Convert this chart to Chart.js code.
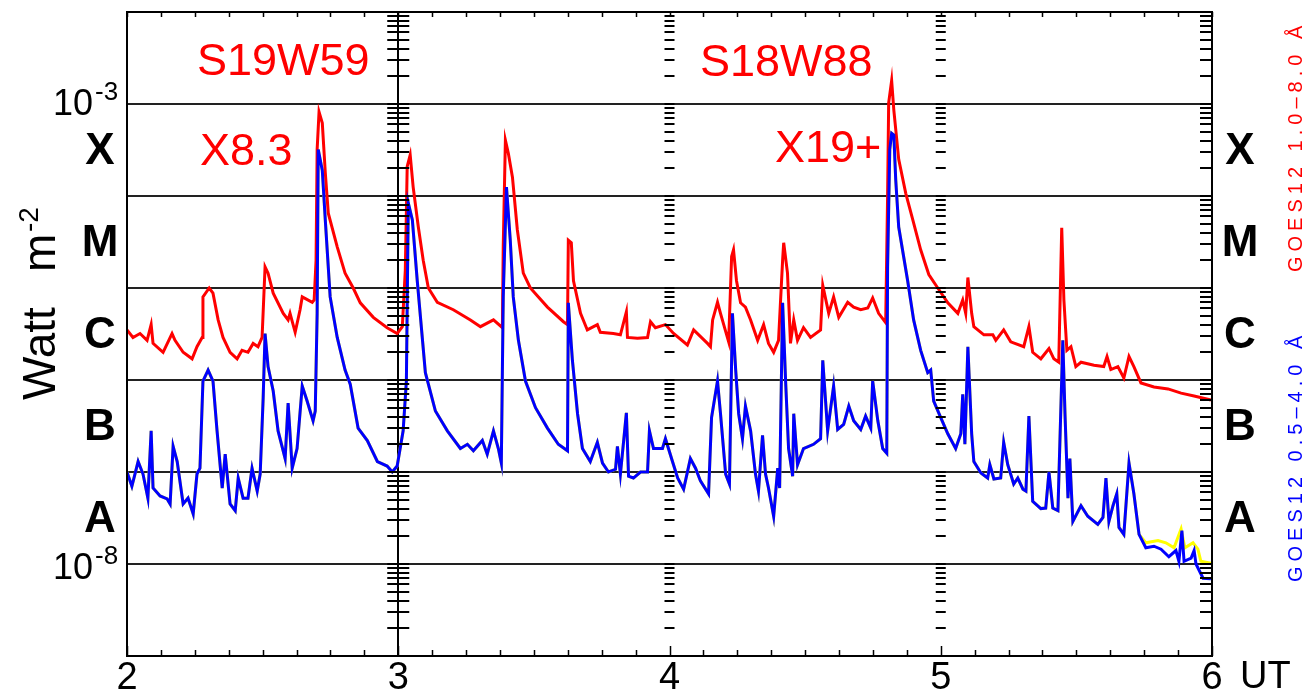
<!DOCTYPE html>
<html>
<head>
<meta charset="utf-8">
<title>GOES X-ray flux</title>
<script src="https://cdn.jsdelivr.net/npm/chart.js@4.4.1/dist/chart.umd.min.js"></script>
<style>
  html, body { margin: 0; padding: 0; background: #fff; }
  #wrap { width: 1302px; height: 700px; }
</style>
</head>
<body>
<div id="wrap"><canvas id="flux" width="1302" height="700"></canvas></div>
<script>
// Axis values
const dayTicks = [2, 3, 4, 5, 6];
const decades = [1e-9, 1e-8, 1e-7, 1e-6, 1e-5, 1e-4, 1e-3, 1e-2];
const classLetters = ['A', 'B', 'C', 'M', 'X'];
const classFloor = [1e-8, 1e-7, 1e-6, 1e-5, 1e-4];

// GOES12 1.0-8.0 A (long channel), time in days of the month
const redTime = [
  2.000, 2.022, 2.048, 2.074, 2.089, 2.096, 2.133, 2.166, 2.177, 2.207,
  2.240, 2.258, 2.277, 2.280, 2.303, 2.317, 2.336, 2.354, 2.380, 2.406,
  2.424, 2.446, 2.465, 2.483, 2.498, 2.509, 2.520, 2.539, 2.576, 2.594,
  2.601, 2.620, 2.638, 2.646, 2.683, 2.690, 2.697, 2.701, 2.708, 2.720,
  2.731, 2.742, 2.775, 2.804, 2.834, 2.860, 2.908, 2.959, 2.996, 3.015,
  3.026, 3.033, 3.044, 3.055, 3.074, 3.092, 3.111, 3.144, 3.203, 3.266,
  3.303, 3.351, 3.384, 3.387, 3.395, 3.406, 3.421, 3.439, 3.461, 3.487,
  3.550, 3.609, 3.624, 3.627, 3.638, 3.646, 3.672, 3.697, 3.734, 3.745,
  3.793, 3.819, 3.841, 3.845, 3.882, 3.919, 3.930, 3.948, 3.985, 4.015,
  4.066, 4.089, 4.140, 4.151, 4.159, 4.177, 4.188, 4.218, 4.229, 4.236,
  4.247, 4.262, 4.280, 4.299, 4.325, 4.347, 4.365, 4.384, 4.402, 4.417,
  4.421, 4.435, 4.446, 4.458, 4.472, 4.494, 4.520, 4.557, 4.565, 4.587,
  4.605, 4.624, 4.657, 4.679, 4.705, 4.731, 4.749, 4.771, 4.797, 4.804,
  4.808, 4.819, 4.827, 4.845, 4.871, 4.897, 4.926, 4.956, 4.989, 5.026,
  5.063, 5.081, 5.092, 5.100, 5.114, 5.122, 5.159, 5.192, 5.203, 5.232,
  5.258, 5.306, 5.325, 5.339, 5.369, 5.399, 5.417, 5.435, 5.446, 5.454,
  5.465, 5.480, 5.498, 5.517, 5.565, 5.601, 5.613, 5.627, 5.653, 5.675,
  5.694, 5.712, 5.738, 5.786, 5.838, 5.886, 5.934, 5.996
];
const redFlux = [
  3.5e-6, 2.9e-6, 3.2e-6, 2.7e-6, 4.0e-6, 2.5e-6, 2.0e-6, 3.2e-6, 2.7e-6, 2.0e-6,
  1.7e-6, 2.3e-6, 2.9e-6, 8.0e-6, 1.0e-5, 8.8e-6, 4.5e-6, 2.9e-6, 2.0e-6, 1.7e-6,
  2.1e-6, 2.0e-6, 2.5e-6, 2.3e-6, 2.9e-6, 1.7e-5, 1.45e-5, 8.8e-6, 5.3e-6, 4.5e-6,
  5.3e-6, 3.3e-6, 5.8e-6, 8.0e-6, 7.0e-6, 7.4e-6, 2.0e-5, 3.2e-4, 8.2e-4, 6.2e-4,
  1.8e-4, 6.5e-5, 2.8e-5, 1.45e-5, 1.0e-5, 6.9e-6, 4.8e-6, 3.7e-6, 3.2e-6, 3.8e-6,
  1.56e-5, 2.1e-4, 2.8e-4, 1.25e-4, 4.6e-5, 2.0e-5, 1.0e-5, 7.0e-6, 5.8e-6, 4.5e-6,
  3.8e-6, 4.5e-6, 3.7e-6, 2.8e-5, 4.05e-4, 2.9e-4, 1.6e-4, 4.3e-5, 1.45e-5, 1.0e-5,
  6.2e-6, 4.3e-6, 4.0e-6, 3.3e-5, 3.1e-5, 1.2e-5, 5.3e-6, 3.5e-6, 4.0e-6, 3.3e-6,
  3.2e-6, 3.1e-6, 5.5e-6, 2.9e-6, 2.85e-6, 2.9e-6, 4.3e-6, 3.7e-6, 4.0e-6, 3.2e-6,
  2.4e-6, 3.5e-6, 2.5e-6, 2.3e-6, 4.5e-6, 7.0e-6, 5.3e-6, 2.6e-6, 2.2e-5, 2.6e-5,
  1.2e-5, 6.9e-6, 6.2e-6, 4.5e-6, 2.7e-6, 4.0e-6, 2.5e-6, 2.0e-6, 2.7e-6, 2.0e-5,
  3.1e-5, 1.45e-5, 2.5e-6, 4.5e-6, 2.7e-6, 3.7e-6, 2.9e-6, 3.5e-6, 1.07e-5, 5.3e-6,
  8.0e-6, 4.8e-6, 7.0e-6, 6.2e-6, 5.8e-6, 6.05e-6, 7.8e-6, 5.3e-6, 4.2e-6, 9.75e-5,
  1.03e-3, 1.8e-3, 8.6e-4, 2.5e-4, 1.07e-4, 5.5e-5, 2.6e-5, 1.4e-5, 1.0e-5, 6.9e-6,
  5.3e-6, 7.4e-6, 5.3e-6, 1.3e-5, 5.3e-6, 3.8e-6, 3.1e-6, 3.1e-6, 2.7e-6, 3.5e-6,
  2.6e-6, 2.3e-6, 3.8e-6, 2.0e-6, 1.7e-6, 2.2e-6, 1.7e-6, 1.56e-6, 4.5e-5, 7.4e-6,
  2.1e-6, 2.3e-6, 1.4e-6, 1.56e-6, 1.45e-6, 1.4e-6, 1.8e-6, 1.3e-6, 1.4e-6, 1.05e-6,
  1.8e-6, 1.4e-6, 9.3e-7, 8.4e-7, 8.0e-7, 7.2e-7, 6.7e-7, 6.05e-7
];

// GOES12 0.5-4.0 A (short channel)
const blueTime = [
  2.000, 2.018, 2.041, 2.059, 2.077, 2.089, 2.096, 2.122, 2.148, 2.159,
  2.170, 2.185, 2.207, 2.225, 2.244, 2.258, 2.269, 2.280, 2.299, 2.317,
  2.332, 2.351, 2.362, 2.380, 2.399, 2.410, 2.428, 2.446, 2.461, 2.480,
  2.491, 2.502, 2.509, 2.520, 2.539, 2.557, 2.583, 2.594, 2.609, 2.627,
  2.646, 2.664, 2.686, 2.694, 2.701, 2.705, 2.720, 2.731, 2.749, 2.775,
  2.804, 2.823, 2.852, 2.886, 2.923, 2.959, 2.978, 2.996, 3.018, 3.030,
  3.037, 3.052, 3.070, 3.100, 3.137, 3.181, 3.229, 3.255, 3.277, 3.310,
  3.328, 3.351, 3.369, 3.380, 3.387, 3.399, 3.413, 3.424, 3.443, 3.469,
  3.506, 3.550, 3.590, 3.624, 3.627, 3.642, 3.661, 3.679, 3.708, 3.734,
  3.753, 3.775, 3.801, 3.808, 3.819, 3.841, 3.849, 3.867, 3.893, 3.919,
  3.926, 3.941, 3.974, 3.985, 4.011, 4.030, 4.052, 4.077, 4.096, 4.114,
  4.144, 4.155, 4.177, 4.188, 4.207, 4.221, 4.232, 4.244, 4.255, 4.269,
  4.280, 4.299, 4.317, 4.328, 4.343, 4.354, 4.365, 4.384, 4.399, 4.406,
  4.417, 4.428, 4.439, 4.454, 4.458, 4.472, 4.494, 4.531, 4.557, 4.565,
  4.583, 4.605, 4.620, 4.642, 4.661, 4.679, 4.705, 4.723, 4.742, 4.749,
  4.768, 4.786, 4.801, 4.804, 4.812, 4.819, 4.827, 4.834, 4.845, 4.878,
  4.900, 4.926, 4.952, 4.963, 4.974, 5.000, 5.026, 5.055, 5.074, 5.081,
  5.089, 5.100, 5.114, 5.122, 5.148, 5.173, 5.181, 5.196, 5.221, 5.232,
  5.247, 5.269, 5.284, 5.303, 5.314, 5.325, 5.339, 5.369, 5.387, 5.399,
  5.413, 5.432, 5.439, 5.450, 5.458, 5.469, 5.476, 5.487, 5.517, 5.542,
  5.579, 5.598, 5.609, 5.620, 5.635, 5.649, 5.657, 5.675, 5.694, 5.712,
  5.731, 5.756, 5.786, 5.812, 5.841, 5.867, 5.878, 5.889, 5.897, 5.923,
  5.934, 5.941, 5.967, 5.996
];
const blueFlux = [
  1.0e-7, 7.0e-8, 1.3e-7, 9.5e-8, 5.2e-8, 2.8e-7, 6.7e-8, 5.5e-8, 5.1e-8, 4.5e-8,
  1.9e-7, 1.3e-7, 4.5e-8, 5.2e-8, 3.5e-8, 9.5e-8, 1.1e-7, 9.75e-7, 1.28e-6, 9.75e-7,
  2.8e-7, 6.7e-8, 1.56e-7, 4.5e-8, 3.8e-8, 8.6e-8, 5.2e-8, 5.2e-8, 1.1e-7, 6.2e-8,
  9.5e-8, 6.4e-7, 3.2e-6, 1.4e-6, 7.6e-7, 2.8e-7, 1.4e-7, 5.6e-7, 1.1e-7, 1.8e-7,
  8.6e-7, 5.9e-7, 3.6e-7, 4.6e-7, 5.3e-6, 3.2e-4, 1.9e-4, 5.5e-5, 8.0e-6, 2.9e-6,
  1.28e-6, 9.0e-7, 3.0e-7, 2.2e-7, 1.3e-7, 1.16e-7, 1.0e-7, 1.16e-7, 2.8e-7, 9.75e-7,
  8.4e-5, 5.5e-5, 1.2e-5, 1.2e-6, 4.6e-7, 2.8e-7, 1.8e-7, 2.0e-7, 1.7e-7, 2.2e-7,
  1.56e-7, 2.8e-7, 1.8e-7, 1.25e-7, 8.0e-6, 1.25e-4, 3.3e-5, 8.0e-6, 2.7e-6, 9.75e-7,
  5.0e-7, 3.0e-7, 2.0e-7, 1.7e-7, 6.9e-6, 1.64e-6, 4.3e-7, 1.8e-7, 1.3e-7, 2.1e-7,
  1.25e-7, 1.0e-7, 1.07e-7, 1.9e-7, 9.5e-8, 4.4e-7, 9.0e-8, 8.6e-8, 1.0e-7, 1.0e-7,
  2.8e-7, 1.8e-7, 1.8e-7, 2.3e-7, 1.3e-7, 8.6e-8, 6.5e-8, 1.4e-7, 1.1e-7, 8.0e-8,
  5.8e-8, 3.9e-7, 9.75e-7, 4.3e-7, 9.5e-8, 7.4e-8, 5.3e-6, 1.28e-6, 4.3e-7, 2.3e-7,
  5.2e-7, 2.8e-7, 9.5e-8, 6.2e-8, 2.5e-7, 9.5e-8, 6.7e-8, 3.3e-8, 1.1e-7, 6.7e-8,
  6.9e-6, 9.75e-7, 1.8e-7, 9.0e-8, 4.3e-7, 1.2e-7, 1.8e-7, 2.0e-7, 2.3e-7, 1.64e-6,
  2.8e-7, 8.6e-7, 2.9e-7, 3.3e-7, 5.2e-7, 3.6e-7, 2.9e-7, 4.05e-7, 3.0e-7, 9.75e-7,
  3.6e-7, 1.8e-7, 1.6e-7, 1.7e-5, 3.2e-4, 4.8e-4, 4.6e-4, 1.5e-4, 4.6e-5, 1.2e-5,
  4.5e-6, 2.1e-6, 1.2e-6, 1.28e-6, 5.9e-7, 3.9e-7, 2.6e-7, 1.8e-7, 2.6e-7, 7.0e-7,
  2.0e-7, 2.3e-6, 2.6e-7, 1.3e-7, 9.75e-8, 8.6e-8, 1.2e-7, 8.4e-8, 8.6e-8, 2.1e-7,
  1.2e-7, 7.4e-8, 8.6e-8, 6.5e-8, 6.2e-8, 4.05e-7, 4.8e-8, 4.0e-8, 4.05e-8, 1.0e-7,
  4.05e-8, 3.8e-8, 2.0e-7, 2.7e-6, 4.3e-7, 5.2e-8, 1.4e-7, 2.9e-8, 4.3e-8, 3.3e-8,
  2.7e-8, 3.2e-8, 8.6e-8, 2.9e-8, 4.3e-8, 5.8e-8, 2.5e-8, 2.1e-8, 1.25e-7, 5.8e-8,
  2.1e-8, 1.5e-8, 1.56e-8, 1.45e-8, 1.2e-8, 1.4e-8, 1.07e-8, 2.3e-8, 1.07e-8, 1.16e-8,
  1.4e-8, 1.0e-8, 7.0e-9, 6.9e-9
];

// second short-channel trace, only separates from the blue one at the end
const yellowTime = [5.731, 5.756, 5.801, 5.830, 5.860, 5.886, 5.900, 5.930, 5.948, 5.959, 5.996];
const yellowFlux = [2.1e-8, 1.7e-8, 1.8e-8, 1.7e-8, 1.5e-8, 2.4e-8, 1.5e-8, 1.7e-8, 1.45e-8, 1.07e-8, 1.02e-8];

const FONT = "'Liberation Sans', Arial, sans-serif";

function toPoints(times, values) {
  return times.map((t, i) => ({ x: t, y: values[i] }));
}

const yellowPoints = toPoints(blueTime, blueFlux)
  .filter(p => p.x < yellowTime[0])
  .concat(toPoints(yellowTime, yellowFlux));

// frame, log minor ticks and all the annotation text
const decorations = {
  id: 'decorations',
  afterDraw(chart) {
    const { ctx, chartArea: a, scales: { x, y } } = chart;
    ctx.save();
    ctx.strokeStyle = '#000';
    ctx.lineWidth = 2;
    ctx.strokeRect(a.left, a.top, a.right - a.left, a.bottom - a.top);

    // time ticks every 3 hours on top and bottom
    ctx.lineWidth = 1.5;
    for (let d = dayTicks[0]; d <= dayTicks[dayTicks.length - 1] + 1e-6; d += 0.125) {
      const px = Math.round(x.getPixelForValue(d)) + 0.5;
      const major = Math.abs(d - Math.round(d)) < 1e-6;
      ctx.beginPath();
      ctx.moveTo(px, a.top);
      ctx.lineTo(px, a.top + 5);
      ctx.moveTo(px, a.bottom);
      ctx.lineTo(px, a.bottom - (major ? 10 : 6));
      ctx.stroke();
    }

    // log minor ticks at the day marks
    ctx.lineWidth = 2;
    for (let n = -9; n < -2; n++) {
      for (let k = 1; k <= 9; k++) {
        const py = Math.round(y.getPixelForValue(k * Math.pow(10, n)));
        if (py < a.top || py > a.bottom) continue;
        const x3 = x.getPixelForValue(3);
        ctx.beginPath();
        ctx.moveTo(x3 - 11, py); ctx.lineTo(x3 + 11, py);
        [4, 5].forEach(d => {
          const xd = x.getPixelForValue(d);
          ctx.moveTo(xd - 5, py); ctx.lineTo(xd + 5, py);
        });
        ctx.moveTo(a.right - 12, py); ctx.lineTo(a.right, py);
        ctx.stroke();
      }
    }

    ctx.fillStyle = '#000';
    ctx.textBaseline = 'alphabetic';

    // 10^-3 and 10^-8 labels
    [[1e-3, '-3', 11, -4], [1e-8, '-8', 15, 0]].forEach(([v, exp, dBase, dSup]) => {
      const py = y.getPixelForValue(v);
      ctx.font = `36px ${FONT}`;
      ctx.textAlign = 'left';
      ctx.fillText('10', 53, py + dBase);
      const w = ctx.measureText('10').width;
      ctx.font = `26px ${FONT}`;
      ctx.fillText(exp, 53 + w + 2, py + dSup);
    });

    // flare class letters, centred in each decade
    ctx.font = `bold 44px ${FONT}`;
    ctx.textAlign = 'center';
    ctx.textBaseline = 'middle';
    classLetters.forEach((c, i) => {
      const py = y.getPixelForValue(Math.sqrt(classFloor[i] * classFloor[i] * 10));
      ctx.fillText(c, 100, py + 2);
      ctx.fillText(c, a.right + 28, py + 2);
    });

    // y axis title
    ctx.save();
    ctx.translate(55, 400);
    ctx.rotate(-Math.PI / 2);
    ctx.textAlign = 'left';
    ctx.textBaseline = 'alphabetic';
    ctx.font = `46px ${FONT}`;
    ctx.fillText('Watt', 0, 0);
    ctx.fillText('m', 128, 0);
    ctx.font = `28px ${FONT}`;
    ctx.fillText('-2', 168, -17);
    ctx.restore();

    // x unit
    ctx.font = `38px ${FONT}`;
    ctx.textAlign = 'left';
    ctx.textBaseline = 'alphabetic';
    ctx.fillText('UT', 1240, 688);

    // flare annotations
    ctx.fillStyle = '#ff0000';
    ctx.font = `45px ${FONT}`;
    ctx.fillText('S19W59', 197, 75);
    ctx.fillText('X8.3', 200, 165);
    ctx.fillText('S18W88', 700, 76);
    ctx.fillText('X19+', 775, 162);

    // channel labels on the right
    ctx.font = `20px ${FONT}`;
    ctx.letterSpacing = '5px';
    [['GOES12 1.0\u20138.0 \u00c5', '#ff0000', 272], ['GOES12 0.5\u20134.0 \u00c5', '#0000ff', 582]].forEach(([txt, col, y0]) => {
      ctx.save();
      ctx.translate(1302, y0);
      ctx.rotate(-Math.PI / 2);
      ctx.fillStyle = col;
      ctx.textAlign = 'left';
      ctx.fillText(txt, 0, 0);
      ctx.restore();
    });
    ctx.restore();
  }
};

new Chart(document.getElementById('flux'), {
  type: 'line',
  data: {
    datasets: [
      {
        label: 'GOES12 0.5-4.0 A',
        data: toPoints(blueTime, blueFlux),
        borderColor: '#0000ff',
        borderWidth: 3
      },
      {
        label: 'GOES12 1.0-8.0 A',
        data: toPoints(redTime, redFlux),
        borderColor: '#ff0000',
        borderWidth: 3
      },
      {
        label: 'short channel (second trace)',
        data: yellowPoints,
        borderColor: '#ffff00',
        borderWidth: 3
      }
    ]
  },
  options: {
    responsive: false,
    devicePixelRatio: 1,
    animation: false,
    layout: { padding: { top: 12, right: 90, bottom: 0, left: 0 } },
    elements: {
      point: { radius: 0 },
      line: { tension: 0, borderJoinStyle: 'miter' }
    },
    plugins: {
      legend: { display: false },
      tooltip: { enabled: false }
    },
    scales: {
      x: {
        type: 'linear',
        min: dayTicks[0],
        max: dayTicks[dayTicks.length - 1],
        afterBuildTicks: s => { s.ticks = dayTicks.map(v => ({ value: v })); },
        afterFit: s => { s.height = 44; },
        ticks: {
          color: '#000',
          font: { family: FONT, size: 38 },
          padding: 0,
          maxRotation: 0,
          autoSkip: false
        },
        grid: {
          drawTicks: false,
          lineWidth: 2,
          color: c => (c.tick && c.tick.value === 3 ? '#000' : 'rgba(0,0,0,0)')
        },
        border: { display: true, color: '#000', width: 2 }
      },
      y: {
        type: 'logarithmic',
        min: decades[0],
        max: decades[decades.length - 1],
        afterBuildTicks: s => { s.ticks = decades.map(v => ({ value: v })); },
        afterFit: s => { s.width = 127; },
        ticks: { display: false },
        grid: { drawTicks: false, lineWidth: 2, color: '#222' },
        border: { display: true, color: '#000', width: 2 }
      }
    }
  },
  plugins: [decorations]
});
</script>
</body>
</html>
